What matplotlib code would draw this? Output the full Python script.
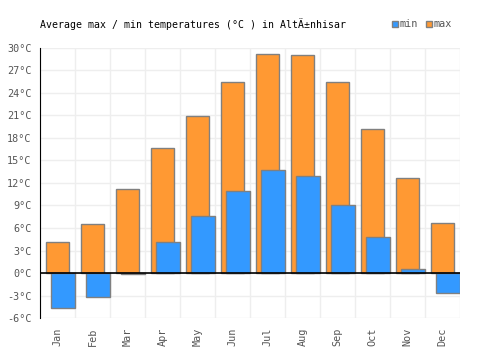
import matplotlib
matplotlib.use('Agg')
import matplotlib.pyplot as plt
import matplotlib.ticker as ticker
from matplotlib.patches import Rectangle
import numpy as np

months = ['Jan', 'Feb', 'Mar', 'Apr', 'May', 'Jun',
          'Jul', 'Aug', 'Sep', 'Oct', 'Nov', 'Dec']
temp_max = [4.2, 6.5, 11.2, 16.6, 20.9, 25.4, 29.2, 29.0, 25.4, 19.2, 12.7, 6.7]
temp_min = [-4.7, -3.2, -0.1, 4.1, 7.6, 10.9, 13.7, 12.9, 9.1, 4.8, 0.6, -2.6]
yticks = list(range(-6, 31, 3))

ORANGE = '#ff9933'
BLUE = '#3399ff'
EDGE = '#808080'
FONT = 'DejaVu Sans Mono'

fig = plt.figure(figsize=(5, 3.5), dpi=100)
ax = fig.add_axes([0.08, 0.0914, 0.84, 0.7715])

ind = np.arange(len(months))
ax.bar(ind + 0.5, temp_max, 0.68, color=ORANGE, edgecolor=EDGE, linewidth=1, zorder=3)
ax.bar(ind + 0.66, temp_min, 0.7, color=BLUE, edgecolor=EDGE, linewidth=1, zorder=4)

ax.set_xlim(0, 12)
ax.set_ylim(-6, 30)
ax.set_yticks(yticks)
ax.yaxis.set_major_formatter(ticker.FuncFormatter(lambda v, p: '%d°C' % v))
ax.set_xticks(ind + 0.5)
ax.set_xticklabels(months, rotation=90)
ax.set_xticks(np.arange(0, 13), minor=True)
ax.tick_params(which='both', length=0)
ax.tick_params(axis='y', pad=6)
ax.tick_params(axis='x', pad=7)
for lab in ax.get_xticklabels() + ax.get_yticklabels():
    lab.set_fontfamily(FONT)
    lab.set_fontsize(7.3)
    lab.set_color('#555555')

ax.grid(True, axis='y', which='major', color='#eeeeee', linewidth=1, zorder=0)
ax.grid(True, axis='x', which='minor', color='#eeeeee', linewidth=1, zorder=0)
for s in ['top', 'right', 'bottom']:
    ax.spines[s].set_visible(False)
ax.spines['left'].set_color('black')
ax.spines['left'].set_zorder(6)
ax.axhline(0, color='black', linewidth=1.2, zorder=5)

fig.text(0.08, 0.931, 'Average max / min temperatures (°C ) in AltÄ±nhisar',
         fontfamily=FONT, fontsize=7.1, color='black', va='center', ha='left')

# legend
for x0, col, name in [(0.783, BLUE, 'min'), (0.851, ORANGE, 'max')]:
    fig.patches.append(Rectangle((x0, 0.922), 0.012, 0.018, transform=fig.transFigure,
                                 facecolor=col, edgecolor=EDGE, linewidth=1))
    fig.text(x0 + 0.016, 0.931, name, fontfamily=FONT, fontsize=7.3,
             color='#555555', va='center', ha='left')

fig.savefig('out.png', dpi=100)
